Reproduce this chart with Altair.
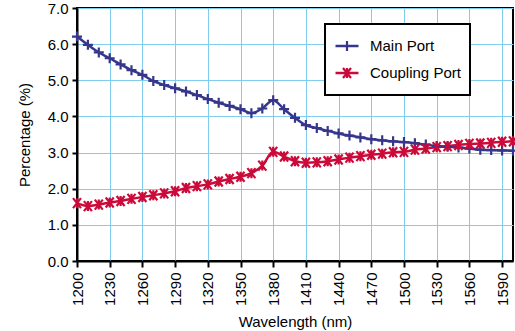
import altair as alt
import pandas as pd

wavelengths = list(range(1200, 1601, 10))
main_port = [6.21, 5.98, 5.77, 5.61, 5.44, 5.28, 5.15, 4.98, 4.87, 4.78,
             4.69, 4.59, 4.48, 4.38, 4.29, 4.20, 4.09, 4.22, 4.45, 4.20,
             3.96, 3.76, 3.68, 3.60, 3.53, 3.47, 3.42, 3.37, 3.34, 3.31,
             3.29, 3.26, 3.22, 3.18, 3.16, 3.14, 3.11, 3.08, 3.07, 3.06, 3.05]
coupling_port = [1.60, 1.52, 1.56, 1.62, 1.66, 1.72, 1.77, 1.82, 1.87, 1.93,
                 2.02, 2.07, 2.12, 2.20, 2.27, 2.33, 2.43, 2.64, 3.02, 2.89,
                 2.76, 2.72, 2.73, 2.76, 2.81, 2.86, 2.90, 2.94, 2.97, 3.01,
                 3.02, 3.08, 3.11, 3.15, 3.18, 3.21, 3.24, 3.25, 3.27, 3.30, 3.31]
series_names = ["Main Port", "Coupling Port"]
series_colors = ["#36368c", "#cc0a3a"]
x_ticks = list(range(1200, 1591, 30))
y_ticks = [0, 1, 2, 3, 4, 5, 6, 7]

PLUS = "M-1,0L1,0M0,-1L0,1"
STAR = "M-0.8,-1L0.8,1M-0.8,1L0.8,-1M0,-1L0,1"

marker_names = [n + " marker" for n in series_names]

rows = []
for w, v in zip(wavelengths, main_port):
    rows.append({"wavelength": w, "value": v, "series": series_names[0],
                 "marker": marker_names[0]})
for w, v in zip(wavelengths, coupling_port):
    rows.append({"wavelength": w, "value": v, "series": series_names[1],
                 "marker": marker_names[1]})
df = pd.DataFrame(rows)

FONT = "Liberation Sans"

x_enc = alt.X("wavelength:Q",
              scale=alt.Scale(domain=[1200, 1600], nice=False, zero=False),
              axis=alt.Axis(values=x_ticks, format="d", labelAngle=270,
                            title="Wavelength (nm)",
                            labelFontSize=15, titleFontSize=15, tickSize=6,
                            labelPadding=5, titlePadding=9, grid=True))
y_enc = alt.Y("value:Q",
              scale=alt.Scale(domain=[0, 7], nice=False),
              axis=alt.Axis(values=y_ticks, format=".1f", title="Percentage (%)",
                            labelFontSize=15, titleFontSize=15, tickSize=5,
                            labelPadding=4, titlePadding=15, grid=True))

legend_common = dict(orient="none", legendX=248, legendY=16, title=None,
                     padding=9, rowPadding=1, labelFontSize=15, labelColor="black",
                     labelFont=FONT, clipHeight=26)

lines = alt.Chart(df).mark_line(strokeWidth=2.5, interpolate="monotone").encode(
    x=x_enc, y=y_enc,
    color=alt.Color("series:N",
                    scale=alt.Scale(domain=series_names, range=series_colors),
                    sort=series_names,
                    legend=alt.Legend(symbolType="stroke", symbolSize=529,
                                      symbolStrokeWidth=2.5, labelOffset=10,
                                      strokeColor="black", fillColor="white",
                                      symbolOffset=0, zindex=1,
                                      labelExpr="datum.label + '      '",
                                      **legend_common)),
)

marker_legend = alt.Legend(symbolSize=100, symbolStrokeWidth=2.2,
                           symbolOffset=5.5, labelExpr="''", zindex=2,
                           symbolFillColor="transparent",
                           **legend_common)

points = alt.Chart(df).mark_point(filled=False, size=100, strokeWidth=2.2, opacity=1).encode(
    x=x_enc, y=y_enc,
    stroke=alt.Stroke("marker:N",
                      scale=alt.Scale(domain=marker_names, range=series_colors),
                      sort=marker_names, legend=marker_legend),
    shape=alt.Shape("marker:N",
                    scale=alt.Scale(domain=marker_names, range=[PLUS, STAR]),
                    sort=marker_names, legend=marker_legend),
)

chart = alt.layer(lines, points).properties(
    width=436, height=253,
    autosize=alt.AutoSizeParams(type="none"),
    padding={"left": 77, "top": 8, "right": 2, "bottom": 70},
).configure(font=FONT).configure_view(
    stroke="black", strokeWidth=2
).configure_axis(
    gridColor="#80cdef", gridWidth=1, gridOpacity=1,
    domainColor="black", domainWidth=2, tickColor="black", tickWidth=2,
    labelColor="black", titleColor="black", titleFontWeight="normal",
    labelFont=FONT, titleFont=FONT,
).configure_legend(strokeWidth=2)

chart.save("out.html", embed_options={"renderer": "svg", "actions": False})
